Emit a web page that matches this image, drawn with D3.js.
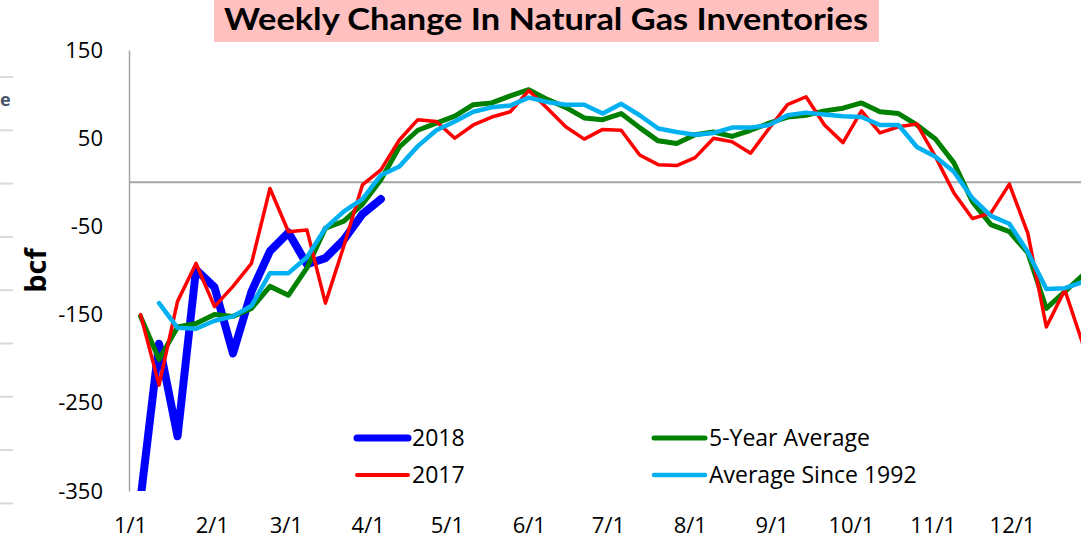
<!DOCTYPE html>
<html><head><meta charset="utf-8">
<script src="https://cdn.jsdelivr.net/npm/d3@7"></script>
<style>body{margin:0;background:#fff;} svg{display:block;font-family:"Open Sans",sans-serif;}</style>
</head><body>
<svg id="chart" width="1081" height="547"></svg>
<script>
// ---- data ----
const weekEnding = ["1/5","1/12","1/19","1/26","2/2","2/9","2/16","2/23","3/2","3/9","3/16","3/23","3/30",
  "4/6","4/13","4/20","4/27","5/4","5/11","5/18","5/25","6/1","6/8","6/15","6/22","6/29","7/6","7/13",
  "7/20","7/27","8/3","8/10","8/17","8/24","8/31","9/7","9/14","9/21","9/28","10/5","10/12","10/19",
  "10/26","11/2","11/9","11/16","11/23","11/30","12/7","12/14","12/21","12/28"];
const monthTicks = ["1/1","2/1","3/1","4/1","5/1","6/1","7/1","8/1","9/1","10/1","11/1","12/1"];
const yTicks = [150, 50, -50, -150, -250, -350];

const s2018 = [-359,-183,-288,-99,-119,-194,-124,-78,-57,-93,-86,-65,-36,-19];
const s2017 = [-150,-230,-135,-92,-141,-118,-92,-7,-56,-54,-137,-72,-3,14,48,71,69,50,65,74,80,104,84,63,49,60,
  59,31,20,19,28,50,46,33,61,88,97,65,45,81,56,63,66,29,-12,-41,-35,-2,-58,-164,-122,-185];
const s5yr = [-152,-201,-164,-160,-150,-152,-143,-118,-128,-97,-52,-44,-25,3,40,59,67,75,88,90,98,105,94,85,73,71,
  78,62,47,44,54,57,52,59,67,74,76,81,84,90,80,78,65,49,22,-22,-48,-56,-80,-143,-124,-105];
const sSince1992 = [null,-137,-165,-166,-157,-152,-140,-103,-103,-85,-52,-33,-19,8,18,41,59,69,80,85,87,96,91,88,88,78,
  89,76,61,57,54,56,62,62,65,76,79,77,75,74,65,65,40,29,12,-18,-38,-47,-79,-121,-120,-113];

const seriesNames = ["2018","2017","5-Year Average","Average Since 1992"];
const seriesColors = ["#0000FF","#FF0000","#008000","#00B0F0"];
const title = "Weekly Change In Natural Gas Inventories";

// ---- setup ----
const svg = d3.select("#chart");
const toDate = s => { const [m, d] = s.split("/").map(Number); return new Date(2018, m - 1, d); };
const dates = weekEnding.map(toDate);

const x = d3.scaleTime().domain([toDate("1/1"), toDate("12/1")]).range([130, 1012]);
const y = d3.scaleLinear().domain([-350, 150]).range([491, 50]);

// left-edge remnants of a neighbouring chart
const ghost = svg.append("g");
d3.range(9).forEach(k => ghost.append("line").attr("x1", 0).attr("x2", 13)
  .attr("y1", 77 + k * 53.3).attr("y2", 77 + k * 53.3).attr("stroke", "#D9D9D9").attr("stroke-width", 2));
ghost.append("text").attr("x", 0).attr("y", 106).attr("text-anchor", "start")
  .attr("font-size", 18).attr("font-weight", "bold").attr("fill", "#4A5568").text("e");

// title
svg.append("rect").attr("x", 214).attr("y", 0).attr("width", 665).attr("height", 42).attr("fill", "#FFC0C0");
svg.append("text").attr("x", 546).attr("y", 30).attr("text-anchor", "middle")
  .attr("font-family", "Lato").attr("font-size", 30).attr("font-weight", "bold").attr("fill", "#000")
  .attr("textLength", 644).attr("lengthAdjust", "spacingAndGlyphs").text(title);

// y axis
const yAxis = svg.append("g").attr("transform", "translate(129,0)")
  .call(d3.axisLeft(y).tickValues(yTicks).tickFormat(d => String(d)).tickSize(0).tickSizeOuter(0).tickPadding(26));
yAxis.select(".domain").attr("stroke", "#A6A6A6").attr("stroke-width", 1.5);
yAxis.selectAll("text").attr("font-size", 22).attr("fill", "#000").attr("font-family", "Open Sans");

// x axis
const xAxis = svg.append("g").attr("transform", "translate(0,491)")
  .call(d3.axisBottom(x).tickValues(monthTicks.map(toDate)).tickFormat(d3.timeFormat("%-m/%-d")).tickSize(0).tickPadding(26));
xAxis.select(".domain").remove();
xAxis.selectAll("text").attr("font-size", 22).attr("fill", "#000").attr("font-family", "Open Sans");

// zero line
svg.append("line").attr("x1", 129).attr("x2", 1081).attr("y1", y(0)).attr("y2", y(0))
  .attr("stroke", "#A6A6A6").attr("stroke-width", 2);

// y label
svg.append("text").attr("transform", `translate(46,${(y(-50)+y(-150))/2}) rotate(-90)`)
  .attr("text-anchor", "middle").attr("font-size", 29).attr("font-weight", "bold").text("bcf");

// clip
svg.append("clipPath").attr("id", "plot").append("rect")
  .attr("x", 129).attr("y", y(150)).attr("width", 1000).attr("height", y(-350) - y(150));

const line = d3.line().defined(d => d != null).x((d, i) => x(dates[i])).y(d => y(d));
const plot = svg.append("g").attr("clip-path", "url(#plot)");
const draw = (data, color, w) => plot.append("path").datum(data).attr("d", line)
  .attr("fill", "none").attr("stroke", color).attr("stroke-width", w)
  .attr("stroke-linejoin", "round").attr("stroke-linecap", "round");
draw(s2018, seriesColors[0], 8);
draw(s5yr, seriesColors[2], 5);
draw(s2017, seriesColors[1], 3.5);
draw(sSince1992, seriesColors[3], 4.5);

// legend
const legendItems = [
  {name: seriesNames[0], color: seriesColors[0], w: 7, lx: 355, ly: 438},
  {name: seriesNames[1], color: seriesColors[1], w: 4, lx: 355, ly: 475},
  {name: seriesNames[2], color: seriesColors[2], w: 5, lx: 652, ly: 438},
  {name: seriesNames[3], color: seriesColors[3], w: 4.5, lx: 652, ly: 475}
];
const lg = svg.append("g");
legendItems.forEach(it => {
  lg.append("line").attr("x1", it.lx + 2).attr("x2", it.lx + 53).attr("y1", it.ly).attr("y2", it.ly)
    .attr("stroke", it.color).attr("stroke-width", it.w).attr("stroke-linecap", "round");
  lg.append("text").attr("x", it.lx + 57).attr("y", it.ly + 8).attr("font-size", 23).attr("fill", "#000").text(it.name);
});
</script>
</body></html>
